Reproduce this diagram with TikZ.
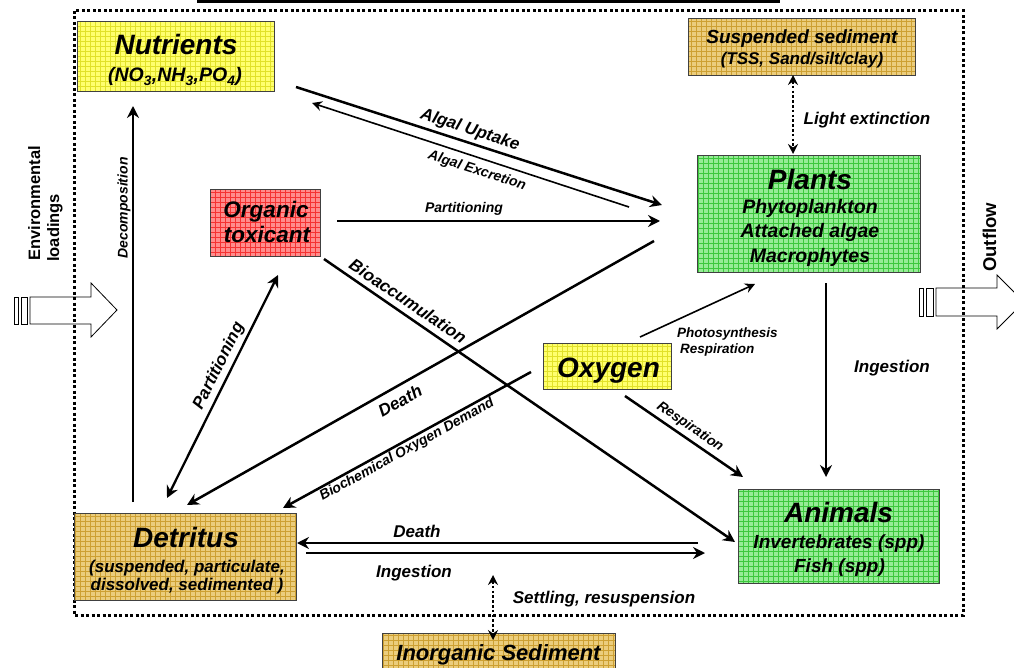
\documentclass[tikz,border=0pt]{standalone}
\usepackage{fontspec}
\setmainfont{Liberation Sans}
\usetikzlibrary{arrows.meta}
\newcommand\bisz[1]{\fontsize{#1}{#1}\selectfont\bfseries\itshape}
\newcommand\bsz[1]{\fontsize{#1}{#1}\selectfont\bfseries}
\definecolor{yelF}{RGB}{255,255,110}
\definecolor{yelG}{RGB}{225,225,40}
\definecolor{grnF}{RGB}{150,235,150}
\definecolor{grnG}{RGB}{60,200,60}
\definecolor{redF}{RGB}{255,140,140}
\definecolor{redG}{RGB}{245,50,50}
\definecolor{tanF}{RGB}{235,205,125}
\definecolor{tanG}{RGB}{205,160,50}
\tikzset{
  box/.style={draw=black!75, line width=0.8pt, rectangle, inner sep=0pt},
  gridfill/.style 2 args={fill=#1, path picture={\draw[#2, line width=0.5pt] (path picture bounding box.south west) grid[step=5pt] (path picture bounding box.north east);}},
  txt/.style={inner sep=0pt, anchor=base},
  conn/.style={line width=2.5pt, -{Stealth[length=12pt,width=12pt,inset=4pt]}},
  thinconn/.style={line width=1.6pt, -{Stealth[length=10pt,width=10pt,inset=3.5pt]}},
  dblconn/.style={line width=2.3pt, {Stealth[length=12pt,width=12pt,inset=4pt]}-{Stealth[length=12pt,width=12pt,inset=4pt]}},
  dotconn/.style={line width=2.6pt, dash pattern=on 2.6pt off 2.2pt, {Stealth[length=10pt,width=10pt,inset=3.5pt]}-{Stealth[length=10pt,width=10pt,inset=3.5pt]}},
  blockarrow/.style={draw=black, line width=0.8pt, fill=white},
  elbl/.style={inner sep=0pt, font=\bisz{17}},
  slbl/.style={inner sep=0pt, font=\bisz{14}},
}
\begin{document}
\begin{tikzpicture}[x=1pt,y=-1pt]
\useasboundingbox (0,0) rectangle (1014,668);
% title bar remnant
\fill (197,0) rectangle (780,3);

% environmental loadings block arrow
\draw[blockarrow] (14,297) rectangle (18,324);
\draw[blockarrow] (21,297) rectangle (27,324);
\draw[blockarrow] (30,297) -- (91,297) -- (91,283) -- (117,310) -- (91,337) -- (91,324) -- (30,324) -- cycle;
\node[inner sep=0pt, anchor=base west, rotate=90, font=\bsz{16.5}] (envA) at (40,261) {Environmental};
\node[inner sep=0pt, anchor=base west, rotate=90, font=\bsz{16.5}] (envB) at (59,262) {loadings};

% outflow block arrow
\draw[blockarrow] (919,288) rectangle (923,316);
\draw[blockarrow] (926,288) rectangle (933,316);
\draw[blockarrow] (936,288) -- (997,288) -- (997,275) -- (1024,302) -- (997,329) -- (997,316) -- (936,316) -- cycle;
\node[inner sep=0pt, anchor=base west, rotate=90, font=\bsz{18.5}] (outA) at (996,272) {Outflow};

% system boundary
\draw[line width=3pt, dash pattern=on 3pt off 2.5pt] (74,11) rectangle (963,615);

% boxes
\node[box, gridfill={yelF}{yelG}, minimum width=197pt, minimum height=70pt] (nut) at (175.5,56) {};
\node[txt, font=\bisz{28}] (nutA) at (176,55) {Nutrients};
\node[txt, font=\bisz{19.5}] (nutB) at (175,82) {(NO\textsubscript{3},NH\textsubscript{3},PO\textsubscript{4})};

\node[box, gridfill={tanF}{tanG}, minimum width=227pt, minimum height=57pt] (sus) at (801.5,46.5) {};
\node[txt, font=\bisz{19}] (susA) at (802,44) {Suspended sediment};
\node[txt, font=\bisz{17}] (susB) at (802,65) {(TSS, Sand/silt/clay)};

\node[box, gridfill={grnF}{grnG}, minimum width=223pt, minimum height=117pt] (pla) at (808.5,213.5) {};
\node[txt, font=\bisz{28}] (plaA) at (810,190) {Plants};
\node[txt, font=\bisz{19.5}] (plaB) at (810,214) {Phytoplankton};
\node[txt, font=\bisz{19.5}] (plaC) at (810,238) {Attached algae};
\node[txt, font=\bisz{19.5}] (plaD) at (810,262) {Macrophytes};

\node[box, gridfill={redF}{redG}, minimum width=110pt, minimum height=67pt] (tox) at (265,222.5) {};
\node[txt, font=\bisz{22.5}] (toxA) at (266,218) {Organic};
\node[txt, font=\bisz{22.5}] (toxB) at (267,243) {toxicant};

\node[box, gridfill={yelF}{yelG}, minimum width=128pt, minimum height=46pt] (oxy) at (607,366) {};
\node[txt, font=\bisz{28}] (oxyA) at (608.5,377) {Oxygen};

\node[box, gridfill={grnF}{grnG}, minimum width=201pt, minimum height=94pt] (ani) at (838.5,536) {};
\node[txt, font=\bisz{28}] (aniA) at (838.5,522) {Animals};
\node[txt, font=\bisz{19}] (aniB) at (839,548) {Invertebrates (spp)};
\node[txt, font=\bisz{19}] (aniC) at (839.5,572) {Fish (spp)};

\node[box, gridfill={tanF}{tanG}, minimum width=222pt, minimum height=87pt] (det) at (185,556.5) {};
\node[txt, font=\bisz{28}] (detA) at (186,547) {Detritus};
\node[txt, font=\bisz{17}] (detB) at (187,572) {(suspended, particulate,};
\node[txt, font=\bisz{17}] (detC) at (187,590) {dissolved, sedimented )};

\node[box, gridfill={tanF}{tanG}, minimum width=233pt, minimum height=44pt] (ino) at (498.5,655) {};
\node[txt, font=\bisz{22}] (inoA) at (498.5,660) {Inorganic Sediment};

% connector end points
\coordinate (decS) at (133,502);  \coordinate (decE) at (133,106);
\coordinate (upS) at (296,87);    \coordinate (upE) at (662,205);
\coordinate (exS) at (629,207);   \coordinate (exE) at (312,103);
\coordinate (ptS) at (337,221);   \coordinate (ptE) at (660,221);
\coordinate (dpS) at (654,241);   \coordinate (dpE) at (187,505);
\coordinate (pdA) at (167,498);   \coordinate (pdB) at (278,275);
\coordinate (bioS) at (324,259);  \coordinate (bioE) at (735,542);
\coordinate (bodS) at (531,372);  \coordinate (bodE) at (283,508);
\coordinate (phS) at (640,337);   \coordinate (phE) at (755,284);
\coordinate (reS) at (625,396);   \coordinate (reE) at (743,477);
\coordinate (inS) at (826,283);   \coordinate (inE) at (826,477);
\coordinate (daS) at (698,543);   \coordinate (daE) at (297,543);
\coordinate (idS) at (306,553);   \coordinate (idE) at (705,553);
\coordinate (leA) at (793,75);    \coordinate (leB) at (793,154);
\coordinate (srA) at (493,575);   \coordinate (srB) at (493,640);

% connectors
\draw[conn] (decS) -- (decE);
\draw[conn] (upS) -- (upE);
\draw[thinconn] (exS) -- (exE);
\draw[conn] (ptS) -- (ptE);
\draw[conn] (dpS) -- (dpE);
\draw[dblconn] (pdA) -- (pdB);
\draw[conn] (bioS) -- (bioE);
\draw[conn] (bodS) -- (bodE);
\draw[thinconn] (phS) -- (phE);
\draw[conn] (reS) -- (reE);
\draw[conn] (inS) -- (inE);
\draw[conn] (daS) -- (daE);
\draw[conn] (idS) -- (idE);
\draw[dotconn] (leA) -- (leB);
\draw[dotconn] (srA) -- (srB);

% connector labels
\node[slbl, rotate=90] (decL) at (124,208) {Decomposition};
\node[elbl, rotate=-18] (upL) at (470,130) {Algal Uptake};
\node[slbl, rotate=-18] (exL) at (477,171) {Algal Excretion};
\node[slbl] (ptL) at (464,209) {Partitioning};
\node[elbl, rotate=29.5] (dpL) at (400,401) {Death};
\node[elbl, rotate=63.5] (pdL) at (219,366) {Partitioning};
\node[elbl, rotate=-34] (bioL) at (408,301) {Bioaccumulation};
\node[slbl, rotate=29] (bodL) at (407,450) {Biochemical Oxygen Demand};
\node[inner sep=0pt, anchor=base west, font=\bisz{13.5}] (phL1) at (677,337) {Photosynthesis};
\node[inner sep=0pt, anchor=base west, font=\bisz{13.5}] (phL2) at (680,353) {Respiration};
\node[slbl, rotate=-34.5] (reL) at (690,427) {Respiration};
\node[elbl] (inL) at (892,368) {Ingestion};
\node[elbl] (leL) at (867,120) {Light extinction};
\node[elbl, anchor=base] (daL) at (417,537) {Death};
\node[elbl, anchor=base] (idL) at (414,577) {Ingestion};
\node[elbl, anchor=base] (srL) at (604,603) {Settling, resuspension};
\end{tikzpicture}
\end{document}
